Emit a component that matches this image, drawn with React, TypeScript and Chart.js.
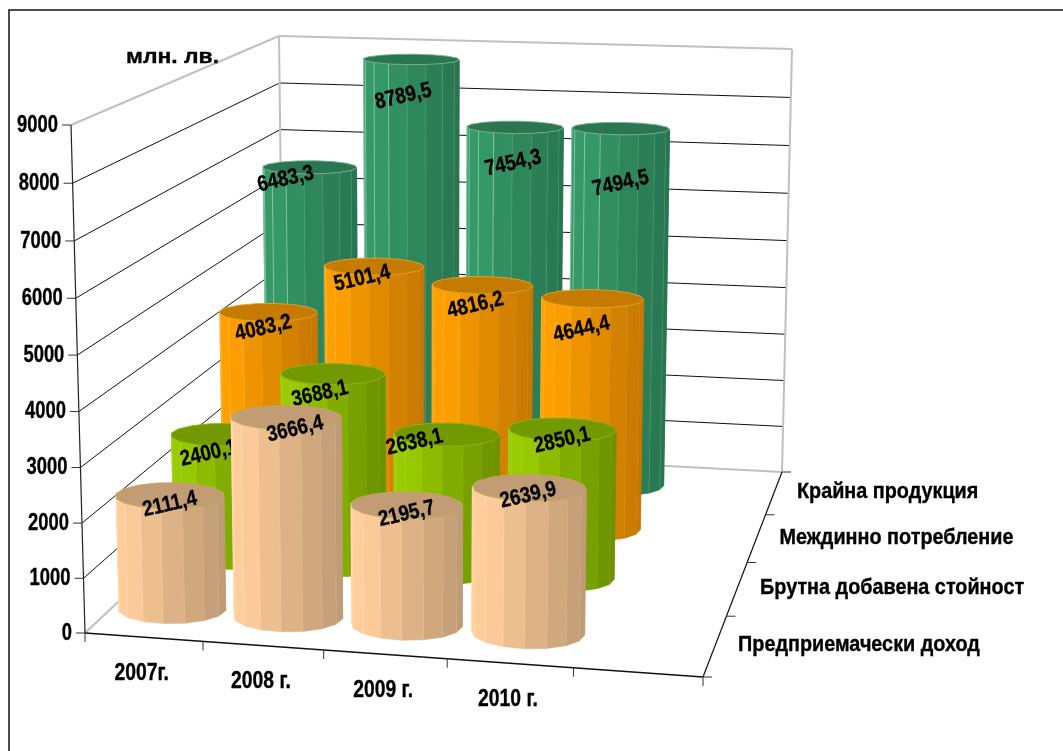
import React, { useEffect, useRef } from "react";
import { Chart, registerables } from "chart.js";

Chart.register(...registerables);

const years = ["2007г.", "2008 г.", "2009 г.", "2010 г.", ""];
const seriesNames = ["Предприемачески доход", "Брутна добавена стойност", "Междинно потребление", "Крайна продукция"];
const entrepreneurIncome = [2111.4, 3666.4, 2195.7, 2639.9];
const grossValueAdded = [2400.1, 3688.1, 2638.1, 2850.1];
const intermediateUse = [4083.2, 5101.4, 4816.2, 4644.4];
const finalOutput = [6483.3, 8789.5, 7454.3, 7494.5];
const seriesValues = [entrepreneurIncome, grossValueAdded, intermediateUse, finalOutput];

type P = [number, number];
const palette = [
  { light: [255, 205, 154], dark: [192, 156, 118], cap: [194, 156, 116], line: "rgba(255,240,210,0.4)", rim: "rgba(190,170,90,0.8)" },
  { light: [153, 204, 0], dark: [108, 146, 0], cap: [115, 153, 0], line: "rgba(190,225,90,0.3)", rim: "rgba(140,180,20,0.9)" },
  { light: [255, 160, 0], dark: [198, 120, 0], cap: [196, 123, 0], line: "rgba(255,210,120,0.35)", rim: "rgba(230,160,40,0.9)" },
  { light: [53, 154, 104], dark: [40, 118, 80], cap: [42, 118, 80], line: "rgba(190,225,205,0.55)", rim: "rgba(120,175,145,0.9)" },
];

const FONT = '"Liberation Sans", sans-serif';
const FLOOR: P[] = [[85, 633], [703, 677], [782, 472], [284, 446]];
const TOP: P[] = [[71, 125], [713, 146], [792, 49], [279, 36]];
const V_PERSPECTIVE = 0.966;
const FACETS = 16;
const RU = 0.091;
const RD = 0.065;
// label offsets from the projected centre of each cap, [series][category]
const LABEL_SHIFT: P[][] = [
  [[0, 9], [9, 12], [0, 9], [-1, 8]],
  [[-14, 19], [-13, 20], [-32, 8], [0, 11]],
  [[-5, 16], [-12, 12], [-7, 20], [-11, 31]],
  [[-24, 12], [-8, 37], [-2, 36], [0, 55]],
];

function homography(q: P[]) {
  const [[x0, y0], [x1, y1], [x2, y2], [x3, y3]] = q;
  const dx1 = x1 - x2, dx2 = x3 - x2, sx = x0 - x1 + x2 - x3;
  const dy1 = y1 - y2, dy2 = y3 - y2, sy = y0 - y1 + y2 - y3;
  const den = dx1 * dy2 - dx2 * dy1;
  const g = (sx * dy2 - dx2 * sy) / den, h = (dx1 * sy - sx * dy1) / den;
  const a = x1 - x0 + g * x1, b = x3 - x0 + h * x3, d = y1 - y0 + g * y1, e = y3 - y0 + h * y3;
  return (u: number, v: number): P => {
    const w = g * u + h * v + 1;
    return [(a * u + b * v + x0) / w, (d * u + e * v + y0) / w];
  };
}
const floorH = homography(FLOOR);
const topH = homography(TOP);
function project(u: number, d: number, v: number): P {
  const f = floorH(u, d), t = topH(u, d);
  const k = (v * V_PERSPECTIVE) / (1 - v + v * V_PERSPECTIVE);
  return [f[0] + (t[0] - f[0]) * k, f[1] + (t[1] - f[1]) * k];
}
function seg(ctx: CanvasRenderingContext2D, a: P, b: P, color: string, width: number) {
  ctx.strokeStyle = color;
  ctx.lineWidth = width;
  ctx.beginPath();
  ctx.moveTo(a[0], a[1]);
  ctx.lineTo(b[0], b[1]);
  ctx.stroke();
}
function label(ctx: CanvasRenderingContext2D, s: string, x: number, y: number, size: number, sx: number, align: CanvasTextAlign, deg = 0) {
  ctx.save();
  ctx.translate(x, y);
  if (deg) ctx.rotate((deg * Math.PI) / 180);
  ctx.scale(sx, 1);
  ctx.font = `bold ${size}px ${FONT}`;
  ctx.textAlign = align;
  ctx.textBaseline = "middle";
  ctx.fillStyle = "#000";
  ctx.strokeStyle = "#000";
  ctx.lineWidth = 0.35;
  ctx.fillText(s, 0, 0);
  ctx.strokeText(s, 0, 0);
  ctx.restore();
}
const rgb = (c: number[]) => `rgb(${c.map(Math.round).join(",")})`;
const mix = (a: number[], b: number[], t: number) => a.map((x, i) => x + (b[i] - x) * t);

function drawCylinder(ctx: CanvasRenderingContext2D, uc: number, dc: number, v: number, s: number) {
  const c = palette[s];
  const facets: { a: number; b: number; mid: number }[] = [];
  const start = 0.1;
  for (let k = 0; k < FACETS; k++) {
    const a = start + (k / FACETS) * Math.PI * 2, b = start + ((k + 1) / FACETS) * Math.PI * 2;
    facets.push({ a, b, mid: (a + b) / 2 });
  }
  const pt = (th: number, vv: number) => project(uc + RU * Math.cos(th), dc + RD * Math.sin(th), vv);
  facets
    .filter((f) => Math.sin(f.mid) < 0.4)
    .sort((p, q) => Math.sin(q.mid) - Math.sin(p.mid))
    .forEach((f) => {
      const a0 = pt(f.a, 0), b0 = pt(f.b, 0), a1 = pt(f.a, v), b1 = pt(f.b, v);
      const t = (Math.cos(f.mid) + 0.55) / 1.55;
      const col = rgb(mix(c.light, c.dark, Math.max(0, Math.min(1, t))));
      ctx.fillStyle = col;
      ctx.strokeStyle = col;
      ctx.lineWidth = 0.6;
      ctx.beginPath();
      ctx.moveTo(a0[0], a0[1]);
      ctx.lineTo(b0[0], b0[1]);
      ctx.lineTo(b1[0], b1[1]);
      ctx.lineTo(a1[0], a1[1]);
      ctx.closePath();
      ctx.fill();
      ctx.stroke();
      if (Math.sin(f.mid) < 0) seg(ctx, a0, a1, c.line, 1);
    });
  ctx.fillStyle = rgb(c.cap);
  ctx.strokeStyle = c.rim;
  ctx.lineWidth = 1;
  ctx.beginPath();
  facets.forEach((f, i) => {
    const p = pt(f.a, v);
    if (i) ctx.lineTo(p[0], p[1]);
    else ctx.moveTo(p[0], p[1]);
  });
  ctx.closePath();
  ctx.fill();
  ctx.stroke();
}

const scene = {
  id: "scene3d",
  beforeDatasetsDraw(chart: any) {
    const { ctx, scales } = chart;
    const xS = scales.x, yS = scales.y, dS = scales.depth;
    const uOf = (i: number) => (xS.getPixelForValue(i) - xS.left) / xS.width;
    const dOf = (i: number) => (dS.getPixelForValue(i) - dS.top) / dS.height;
    const base = yS.getPixelForValue(0);
    const span = base - yS.getPixelForValue(yS.max);
    const vOf = (val: number) => (base - yS.getPixelForValue(val)) / span;
    const nCat = xS.getLabels().length;
    const nSer = dS.getLabels().length;
    ctx.save();
    ctx.fillStyle = "#fff";
    ctx.fillRect(0, 0, chart.width, chart.height);

    // outer frame
    ctx.strokeStyle = "#111";
    ctx.lineWidth = 1.5;
    ctx.beginPath();
    ctx.moveTo(9, chart.height);
    ctx.lineTo(9, 10);
    ctx.lineTo(chart.width, 10);
    ctx.stroke();

    // walls and value grid
    yS.ticks.forEach((t: any) => {
      const v = vOf(t.value);
      const edge = t.value === 0 || t.value === yS.max;
      const col = edge ? "#c0c0c0" : "#111";
      const w = edge ? 2 : 1;
      seg(ctx, project(0, 0, v), project(0, 1, v), col, w);
      seg(ctx, project(0, 1, v), project(1, 1, v), col, w);
    });
    seg(ctx, project(0, 1, 0), project(0, 1, 1), "#c0c0c0", 2);
    seg(ctx, project(1, 1, 0), project(1, 1, 1), "#c0c0c0", 2);

    // axes
    seg(ctx, project(0, 0, 0), project(0, 0, 1), "#222", 1.2);
    seg(ctx, project(0, 0, 0), project(1, 0, 0), "#111", 1.4);
    seg(ctx, project(1, 0, 0), project(1, 1, 0), "#111", 1.2);

    // value axis ticks and labels
    yS.ticks.forEach((t: any) => {
      const p = project(0, 0, vOf(t.value));
      seg(ctx, [p[0] - 9, p[1]], p, "#333", 1);
      label(ctx, t.label, p[0] - 13, p[1] + 0.5, 23, 0.8, "right");
    });

    // category ticks and labels
    for (let k = 0; k <= nCat; k++) {
      const p = project(k / nCat, 0, 0);
      seg(ctx, p, [p[0], p[1] + 9], "#333", 1);
    }
    xS.getLabels().forEach((text: string, i: number) => {
      const p = project(uOf(i), 0, 0);
      label(ctx, text, p[0] - 2, p[1] + 36, 23, 0.84, "center");
    });

    // series ticks and labels
    for (let k = 0; k <= nSer; k++) {
      const p = project(1, k / nSer, 0);
      seg(ctx, p, [p[0] + 9, p[1]], "#333", 1);
    }
    dS.getLabels().forEach((text: string, i: number) => {
      const p = project(1, dOf(i), 0);
      label(ctx, text, p[0] + 23, p[1] - 0.5, 22, 0.9, "left");
    });

    // unit
    label(ctx, "млн. лв.", 126, 57, 21, 1.09, "left");

    // cylinders, back row first, each row followed by its labels
    for (let s = chart.data.datasets.length - 1; s >= 0; s--) {
      const data = chart.data.datasets[s].data as number[];
      data.forEach((val, i) => drawCylinder(ctx, uOf(i), dOf(s), vOf(val), s));
      data.forEach((val, i) => {
        const p = project(uOf(i), dOf(s), vOf(val));
        const sh = LABEL_SHIFT[s][i];
        label(ctx, val.toFixed(1).replace(".", ","), p[0] + sh[0], p[1] + sh[1], 22, 0.85, "center", -13);
      });
    }
    ctx.restore();
  },
};

export default function App() {
  const ref = useRef<HTMLCanvasElement>(null);
  useEffect(() => {
    const chart = new Chart(ref.current!, {
      type: "bar",
      data: {
        labels: years,
        datasets: seriesNames.map((name, i) => ({
          label: name,
          data: seriesValues[i],
          backgroundColor: "rgba(0,0,0,0)",
          borderWidth: 0,
        })),
      },
      options: {
        animation: false,
        responsive: false,
        layout: { padding: 0 },
        plugins: { legend: { display: false }, tooltip: { enabled: false }, title: { display: false } },
        scales: {
          x: { type: "category", display: false },
          y: { type: "linear", min: 0, max: 9000, display: false, ticks: { stepSize: 1000, callback: (v: any) => String(v) } },
          depth: { type: "category", axis: "y", labels: seriesNames, display: false, offset: true },
        },
      },
      plugins: [scene],
    } as any);
    return () => chart.destroy();
  }, []);
  return (
    <div style={{ position: "absolute", left: 0, top: 0, width: 1063, height: 751, overflow: "hidden", background: "#fff" }}>
      <canvas ref={ref} width={1063} height={751} style={{ display: "block" }} />
    </div>
  );
}
